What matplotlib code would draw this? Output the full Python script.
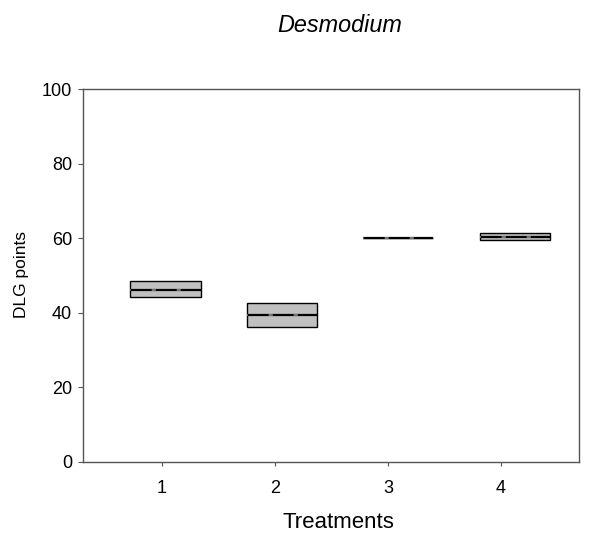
import matplotlib.pyplot as plt

plt.rcParams['font.family'] = ['Liberation Sans', 'DejaVu Sans']

# Box statistics (DLG points per treatment)
treatments = [1, 2, 3, 4]
q1 = [44.2, 36.1, 60.0, 59.5]
med = [46.1, 39.4, 60.0, 60.2]
q3 = [48.6, 42.5, 60.0, 61.5]
mean = [46.1, 39.4, 60.0, 60.2]

# boxes sit slightly right of the ticks in the original
box_pos = [1.03, 2.06, 3.09, 4.12]

fig = plt.figure(figsize=(6.03, 5.38), dpi=100)
ax = fig.add_axes([83 / 603, 1 - 462 / 538, 496 / 603, 373 / 538])

stats = []
for i in range(len(treatments)):
    stats.append(dict(med=med[i], q1=q1[i], q3=q3[i], mean=mean[i],
                      whislo=q1[i], whishi=q3[i], fliers=[]))

ax.bxp(stats, positions=box_pos, widths=0.62, patch_artist=True,
       showcaps=False, showfliers=False, showmeans=True, meanline=True,
       boxprops=dict(facecolor='#c0c0c0', edgecolor='black', linewidth=1.0),
       medianprops=dict(color='black', linewidth=1.6),
       meanprops=dict(color='#8c8c8c', linestyle=(2, (2.5, 12.5)), linewidth=1.2),
       whiskerprops=dict(linewidth=0))

ax.set_xlim(0.3, 4.69)
ax.set_ylim(0, 100)
ax.set_xticks(treatments)
ax.set_xticklabels([str(t) for t in treatments])
ax.set_yticks([0, 20, 40, 60, 80, 100])

for s in ax.spines.values():
    s.set_color('#555555')
    s.set_linewidth(1.0)
ax.tick_params(direction='out', color='#555555', labelsize=13)
ax.tick_params(axis='x', length=3, pad=10)
ax.tick_params(axis='y', length=3.5, pad=4.5)

ax.set_ylabel('DLG points', fontsize=12.5, va='center')
ax.yaxis.set_label_coords(22 / 603, 1 - 275 / 538, transform=fig.transFigure)
ax.set_xlabel('Treatments', fontsize=16, va='baseline')
ax.xaxis.set_label_coords(338 / 603, 1 - 527.5 / 538, transform=fig.transFigure)
fig.text(339.5 / 603, 1 - 32.3 / 538, 'Desmodium', fontsize=16.8, style='italic',
         ha='center', va='baseline')

fig.savefig('out.png', dpi=100)
